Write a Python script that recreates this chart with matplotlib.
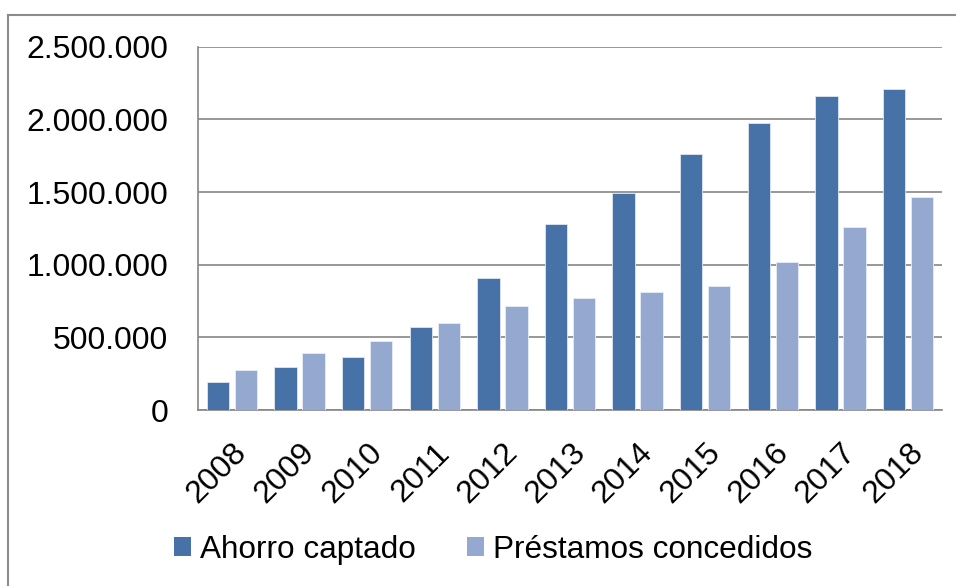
import matplotlib
import matplotlib.pyplot as plt
import numpy as np
from matplotlib.lines import Line2D
from matplotlib.patches import Patch
from matplotlib.ticker import FuncFormatter

plt.switch_backend("agg")
plt.rcParams["font.family"] = ["Liberation Sans", "DejaVu Sans"]

YEARS = ["2008", "2009", "2010", "2011", "2012", "2013",
         "2014", "2015", "2016", "2017", "2018"]
AHORRO = [195000, 296000, 367000, 569000, 908000, 1278000,
          1491000, 1759000, 1975000, 2161000, 2206000]
PRESTAMOS = [275000, 392000, 477000, 596000, 713000, 771000,
             812000, 856000, 1016000, 1259000, 1468000]
Y_TICKS = [0, 500000, 1000000, 1500000, 2000000, 2500000]
SERIES_LABELS = ["Ahorro captado", "Préstamos concedidos"]

DARK = "#4672A8"
LIGHT = "#95A9D0"
GRID = "#868686"

W, H = 956, 586


def thousands(v, _pos):
    return f"{int(v):,}".replace(",", ".")


def main():
    fig = plt.figure(figsize=(W / 100, H / 100), dpi=100)
    ax = fig.add_axes([198 / W, 1 - 410 / H, (942 - 198) / W, (410 - 46.7) / H])

    x = np.arange(len(YEARS))
    width = 0.33
    off = 0.207
    ax.bar(x - off, AHORRO, width, color=DARK, edgecolor="#dfe6f0", linewidth=0.6, zorder=3)
    ax.bar(x + off, PRESTAMOS, width, color=LIGHT, edgecolor="#e8edf5", linewidth=0.6, zorder=3)

    ax.set_xlim(-0.5, len(YEARS) - 0.5)
    ax.set_ylim(0, 2500000)
    ax.set_yticks(Y_TICKS)
    ax.yaxis.set_major_formatter(FuncFormatter(thousands))
    ax.tick_params(axis="y", length=0, pad=21.5, labelsize=23)
    ax.grid(axis="y", color=GRID, linewidth=1.2, zorder=0)
    ax.set_axisbelow(True)

    ax.set_xticks(x)
    ax.set_xticklabels(YEARS, rotation=45, ha="right", rotation_mode="anchor", fontsize=23)
    ax.tick_params(axis="x", length=0, pad=20)

    for side in ["top", "right"]:
        ax.spines[side].set_visible(False)
    for side in ["left", "bottom"]:
        ax.spines[side].set_color(GRID)
        ax.spines[side].set_linewidth(1.2)

    handles = [Patch(facecolor=DARK), Patch(facecolor=LIGHT)]
    fig.legend(handles, SERIES_LABELS, loc="center left",
               bbox_to_anchor=(174 / W, 1 - 550 / H), ncol=2, frameon=False,
               fontsize=22.7, handlelength=0.54, handleheight=0.54,
               handletextpad=0.27, columnspacing=1.65, borderpad=0, borderaxespad=0)

    # outer chart border (only top and left edges are visible in the crop)
    fig.add_artist(Line2D([7.5 / W, 7.5 / W], [0, 1 - 15 / H], transform=fig.transFigure,
                          color="#8c8c8c", linewidth=1.5))
    fig.add_artist(Line2D([7.5 / W, 1], [1 - 15 / H, 1 - 15 / H], transform=fig.transFigure,
                          color="#8c8c8c", linewidth=1.5))

    fig.savefig("out.png", dpi=100)
    plt.close(fig)


if __name__ == "__main__":
    main()
